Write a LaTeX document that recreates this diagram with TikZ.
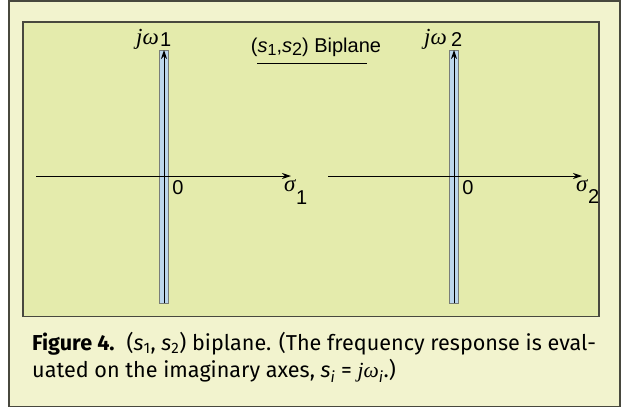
\documentclass[tikz,border=0pt]{standalone}
\usepackage{fontspec}
\setmainfont{Liberation Sans}
\newfontfamily\capfont{Fira Sans}
\newfontfamily\serifit{Liberation Serif}
\usetikzlibrary{arrows.meta}
\definecolor{outerbg}{RGB}{242,243,206}
\definecolor{innerbg}{RGB}{228,235,172}
\definecolor{stripblue}{RGB}{188,214,236}
\definecolor{framegray}{RGB}{72,72,62}
\definecolor{stripedge}{RGB}{120,125,120}
\newcommand\gk[1]{{\serifit\itshape #1}}
\tikzset{
  outerframe/.style={fill=outerbg, draw=framegray, line width=1.4bp},
  innerframe/.style={fill=innerbg, draw=framegray, line width=1.2bp},
  strip/.style={fill=stripblue, draw=stripedge, line width=0.6bp},
  axis/.style={draw=black, line width=1bp, -{Stealth[length=9bp,width=6bp]}},
  lbl/.style={inner sep=0pt, font=\fontsize{20bp}{22bp}\selectfont},
  greeklbl/.style={inner sep=0pt, font=\serifit\itshape\fontsize{23bp}{26bp}\selectfont},
  captext/.style={inner sep=0pt, anchor=base west, font=\capfont\fontsize{21.6bp}{24bp}\selectfont},
}
\begin{document}
\begin{tikzpicture}[x=1bp,y=-1bp]
\useasboundingbox (0,0) rectangle (621,408);
\draw[outerframe] (9,1) rectangle (620,406.5);
\draw[innerframe] (23,22) rectangle (599,316.5);
% strips
\draw[strip] (159,50) rectangle (168.5,303);
\draw[strip] (449,50) rectangle (458.5,303);
% axes coordinates
\coordinate (h1s) at (36,176);
\coordinate (h1e) at (291,176);
\coordinate (v1s) at (164,303);
\coordinate (v1e) at (164,50);
\coordinate (h2s) at (328,176);
\coordinate (h2e) at (582,176);
\coordinate (v2s) at (454,303);
\coordinate (v2e) at (454,50);
\draw[axis] (h1s) -- (h1e);
\draw[axis] (v1s) -- (v1e);
\draw[axis] (h2s) -- (h2e);
\draw[axis] (v2s) -- (v2e);
% labels
\node[greeklbl, anchor=base west] (jw1) at (136,44) {jω};
\node[lbl, anchor=base west] (jw1s) at (160,46) {1};
\node[greeklbl, anchor=base west] (jw2) at (424,44) {jω};
\node[lbl, anchor=base west] (jw2s) at (451,46) {2};
\node[lbl] (title) at (316,47) {(\textit{s}\raisebox{-3bp}{\fontsize{16bp}{18bp}\selectfont 1},\textit{s}\raisebox{-3bp}{\fontsize{18bp}{18bp}\selectfont 2}) Biplane};
\coordinate (ul1) at (257,63);
\coordinate (ul2) at (367,63);
\draw[line width=1bp] (ul1) -- (ul2);
\node[lbl] (zero1) at (178,188) {0};
\node[lbl] (zero2) at (468,188) {0};
\node[greeklbl, anchor=west] (sig1) at (284,186) {σ};
\node[lbl, anchor=west] (sub1) at (296,198) {1};
\node[greeklbl, anchor=west] (sig2) at (576,186) {σ};
\node[lbl, anchor=west] (sub2) at (588,197) {2};
% caption
\node[captext] (cap1) at (32,350.7) {{\bfseries Figure 4.}\hspace{0.55em}(\textit{s}\textsubscript{1}, \textit{s}\textsubscript{2}) biplane. (The frequency response is eval-};
\node[captext] (cap2) at (32,377.7) {uated on the imaginary axes, \textit{s}\textsubscript{\textit{i}}\ =\ \gk{jω}\textsubscript{\textit{i}}.)};
\end{tikzpicture}
\end{document}
